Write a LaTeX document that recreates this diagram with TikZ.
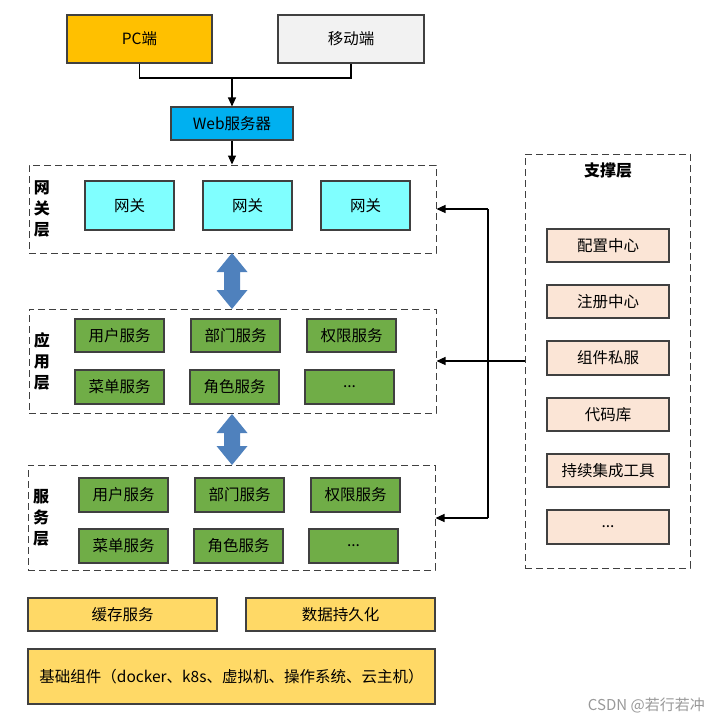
\documentclass[tikz,border=0pt]{standalone}
\usepackage{fontspec}
\setmainfont{Noto Sans CJK SC}
\usetikzlibrary{arrows.meta}
\definecolor{pcfill}{HTML}{FFC000}
\definecolor{mobfill}{HTML}{F2F2F2}
\definecolor{webfill}{HTML}{00B0F0}
\definecolor{gwfill}{HTML}{80FFFF}
\definecolor{svcfill}{HTML}{70AD47}
\definecolor{basefill}{HTML}{FFD966}
\definecolor{supfill}{HTML}{FBE5D6}
\definecolor{bigarrow}{HTML}{4F81BD}
\definecolor{edge}{HTML}{404040}
\newcommand{\bx}[7]{\node[box,#6,minimum width={(#4-#2)*1pt},minimum height={(#5-#3)*1pt}] (#1) at ({(#2+#4)/2},{(#3+#5)/2}) {#7};}
\newcommand{\lay}[5]{\node[layer,minimum width={(#4-#2)*1pt},minimum height={(#5-#3)*1pt}] (#1) at ({(#2+#4)/2},{(#3+#5)/2}) {};}
\begin{document}
\begin{tikzpicture}[x=1pt,y=-1pt,
  box/.style={draw=edge,line width=1.1pt,inner sep=0pt,font=\fontsize{15.5}{18}\selectfont},
  layer/.style={draw=edge,line width=1pt,dash pattern=on 7pt off 4pt,inner sep=0pt},
  lbl/.style={font=\fontsize{16}{21}\selectfont\bfseries,align=center,inner sep=0pt},
  conn/.style={draw=black,line width=1.1pt},
  arr/.style={conn,-{Triangle[length=9pt,width=8pt]}},
  dbl/.style={fill=bigarrow}]
\useasboundingbox (0,0) rectangle (718,723);
% top
\bx{pc}{67}{15}{212}{63}{fill=pcfill}{PC端}
\bx{mob}{278}{15}{424}{63}{fill=mobfill}{移动端}
\bx{web}{171}{107}{293}{140}{fill=webfill}{Web服务器}
\coordinate (j) at (232,78);
\draw[conn] (pc.south) |- (j) -| (mob.south);
\draw[arr] (j) -- (web.north);
% gateway layer
\lay{gwL}{29}{165}{436}{253}
\node[lbl] (gwT) at (42,209) {网\\关\\层};
\bx{gw1}{85}{181}{174}{230}{fill=gwfill}{网关}
\bx{gw2}{203}{181}{292}{230}{fill=gwfill}{网关}
\bx{gw3}{321}{181}{410}{230}{fill=gwfill}{网关}
\draw[arr] (web.south) -- (gwL.north -| web.south);
% app layer
\lay{appL}{29}{309}{436}{413}
\node[lbl] (appT) at (42,361) {应\\用\\层};
\bx{a1}{75}{319}{164}{352}{fill=svcfill}{用户服务}
\bx{a2}{191}{319}{280}{352}{fill=svcfill}{部门服务}
\bx{a3}{307}{319}{396}{352}{fill=svcfill}{权限服务}
\bx{a4}{75}{370}{164}{404}{fill=svcfill}{菜单服务}
\bx{a5}{190}{370}{279}{404}{fill=svcfill}{角色服务}
\bx{a6}{305}{370}{394}{404}{fill=svcfill}{...}
% service layer
\lay{svL}{28}{465}{435}{570}
\node[lbl] (svT) at (41,518) {服\\务\\层};
\bx{s1}{79}{478}{168}{512}{fill=svcfill}{用户服务}
\bx{s2}{195}{478}{284}{512}{fill=svcfill}{部门服务}
\bx{s3}{311}{478}{400}{512}{fill=svcfill}{权限服务}
\bx{s4}{79}{529}{168}{563}{fill=svcfill}{菜单服务}
\bx{s5}{194}{529}{283}{563}{fill=svcfill}{角色服务}
\bx{s6}{309}{529}{398}{563}{fill=svcfill}{...}
% double arrows
\fill[dbl] (232,253) -- (247.5,272) -- (240,272) -- (240,290) -- (247.5,290) -- (232,309) -- (216.5,290) -- (224,290) -- (224,272) -- (216.5,272) -- cycle;
\fill[dbl] (232,414) -- (247.5,433) -- (240,433) -- (240,446) -- (247.5,446) -- (232,465) -- (216.5,446) -- (224,446) -- (224,433) -- (216.5,433) -- cycle;
% base
\bx{cache}{28}{598}{217}{631}{fill=basefill}{缓存服务}
\bx{db}{246}{598}{435}{631}{fill=basefill}{数据持久化}
\bx{base}{28}{649}{435}{704}{fill=basefill}{基础组件（docker、k8s、虚拟机、操作系统、云主机）}
% support layer
\lay{supL}{525}{154}{690}{568}
\node[lbl] (supT) at (608,171) {支撑层};
\bx{p1}{547}{229}{669}{262}{fill=supfill}{配置中心}
\bx{p2}{547}{285}{669}{318}{fill=supfill}{注册中心}
\bx{p3}{547}{341}{669}{375}{fill=supfill}{组件私服}
\bx{p4}{547}{398}{669}{431}{fill=supfill}{代码库}
\bx{p5}{547}{454}{669}{487}{fill=supfill}{持续集成工具}
\bx{p6}{547}{510}{669}{544}{fill=supfill}{...}
% support connectors
\coordinate (bt) at (488,209);
\coordinate (bm) at (488,361);
\coordinate (bb) at (488,518);
\draw[conn] (bt) -- (bb);
\draw[arr] (supL.west |- bm) -- (appL.east |- bm);
\draw[arr] (bt) -- (gwL.east |- bt);
\draw[arr] (bb) -- (svL.east |- bb);
% watermark
\node[font=\fontsize{15}{18}\selectfont,text=black!40,anchor=east,inner sep=0pt] (wm) at (705,705) {CSDN @若行若冲};
\end{tikzpicture}
\end{document}
